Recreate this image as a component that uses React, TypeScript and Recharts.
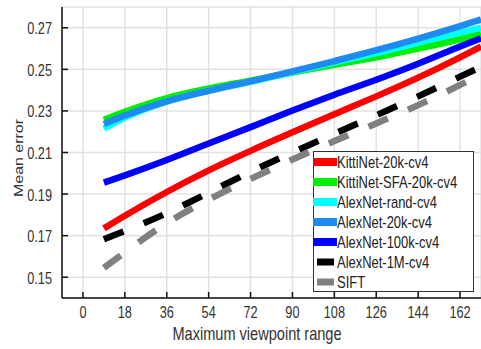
import { LineChart, Line, XAxis, YAxis, CartesianGrid, Legend, Customized } from "recharts";

const FONT = "'Liberation Sans', Arial, Helvetica, sans-serif";

// viewpoint range samples
const ranges = [9, 18, 36, 54, 72, 90, 108, 126, 144, 162, 171];

const kitti20k = [0.1735, 0.1796, 0.191, 0.2014, 0.2108, 0.2197, 0.2284, 0.237, 0.246, 0.2558, 0.261];
const kittiSfa20k = [0.2257, 0.2296, 0.2362, 0.2408, 0.2446, 0.2485, 0.2522, 0.2558, 0.26, 0.2645, 0.267];
const alexRand = [0.2215, 0.2268, 0.2345, 0.2397, 0.244, 0.2487, 0.2533, 0.2578, 0.2628, 0.2677, 0.27];
const alex20k = [0.2237, 0.2278, 0.2346, 0.2397, 0.2442, 0.249, 0.254, 0.2592, 0.2648, 0.2708, 0.274];
const alex100k = [0.1955, 0.199, 0.2064, 0.2143, 0.2222, 0.2302, 0.2378, 0.245, 0.2527, 0.261, 0.265];
const alex1M = [0.1683, 0.1723, 0.1808, 0.1907, 0.2007, 0.21, 0.219, 0.2279, 0.237, 0.2465, 0.2512];
const sift = [0.1545, 0.162, 0.176, 0.1873, 0.1973, 0.2066, 0.2155, 0.224, 0.2328, 0.2425, 0.2477];

const xTicks = [0, 18, 36, 54, 72, 90, 108, 126, 144, 162];
const yTicks = [0.15, 0.17, 0.19, 0.21, 0.23, 0.25, 0.27];

const series = [
  { key: "kitti20k", name: "KittiNet-20k-cv4", color: "#ff0000", values: kitti20k, dashed: false },
  { key: "kittiSfa20k", name: "KittiNet-SFA-20k-cv4", color: "#00ee00", values: kittiSfa20k, dashed: false },
  { key: "alexRand", name: "AlexNet-rand-cv4", color: "#00ffff", values: alexRand, dashed: false },
  { key: "alex20k", name: "AlexNet-20k-cv4", color: "#1f8af2", values: alex20k, dashed: false },
  { key: "alex100k", name: "AlexNet-100k-cv4", color: "#0000ff", values: alex100k, dashed: false },
  { key: "alex1M", name: "AlexNet-1M-cv4", color: "#000000", values: alex1M, dashed: true },
  { key: "sift", name: "SIFT", color: "#808080", values: sift, dashed: true },
];

const data = ranges.map((r, i) => {
  const row: Record<string, number> = { range: r };
  series.forEach((s) => {
    row[s.key] = s.values[i];
  });
  return row;
});

// ticks point inward, labels are narrow like the original figure
const XTick = ({ x, y, payload }: any) => (
  <g>
    <line x1={x} x2={x} y1={y} y2={y - 6} stroke="#111" strokeWidth={1.5} />
    <text
      transform={`translate(${x},${y + 20}) scale(0.75,1)`}
      textAnchor="middle"
      fontSize={17}
      fontFamily={FONT}
      fill="#333"
    >
      {payload.value}
    </text>
  </g>
);

const YTick = ({ x, y, payload }: any) => (
  <g>
    <line x1={x} x2={x + 6} y1={y} y2={y} stroke="#111" strokeWidth={1.5} />
    <text
      transform={`translate(${x - 10},${y + 6.5}) scale(0.75,1)`}
      textAnchor="end"
      fontSize={17}
      fontFamily={FONT}
      fill="#333"
    >
      {Number(payload.value).toFixed(2)}
    </text>
  </g>
);

const renderLegend = () => (
  <svg width={162} height={142} style={{ display: "block" }}>
    <rect x={0.5} y={0.5} width={160} height={140} fill="#fff" stroke="#333" strokeWidth={1} />
    {series.map((s, i) => (
      <g key={s.key}>
        <line
          x1={s.dashed ? 4 : 0}
          x2={s.dashed ? 21 : 24}
          y1={11 + i * 20}
          y2={11 + i * 20}
          stroke={s.color}
          strokeWidth={s.dashed ? 7 : 8}
        />
        <text
          transform={`translate(24,${16.5 + i * 20}) scale(0.81,1)`}
          fontSize={16}
          fontFamily={FONT}
          fill="#222"
        >
          {s.name}
        </text>
      </g>
    ))}
  </svg>
);

const AxisTitles = () => (
  <g fontFamily={FONT} fill="#333">
    <text transform="translate(257,340) scale(0.81,1)" textAnchor="middle" fontSize={18}>
      Maximum viewpoint range
    </text>
    <text transform="translate(23,158) rotate(-90) scale(1,0.78)" textAnchor="middle" fontSize={16}>
      Mean error
    </text>
  </g>
);

export default function App() {
  return (
    <div style={{ position: "absolute", left: 0, top: 0, background: "#fff" }}>
      <LineChart width={481} height={349} data={data} margin={{ top: 7, right: 0, bottom: 0, left: 0 }}>
        <CartesianGrid stroke="#e2e2e2" strokeWidth={1.5} />
        <XAxis
          dataKey="range"
          type="number"
          domain={[-9, 171]}
          ticks={xTicks}
          interval={0}
          height={51}
          tickSize={0}
          tickMargin={0}
          tickLine={false}
          axisLine={{ stroke: "#111", strokeWidth: 1.5 }}
          tick={<XTick />}
        />
        <YAxis
          type="number"
          domain={[0.14, 0.28]}
          ticks={yTicks}
          interval={0}
          width={62}
          tickSize={0}
          tickMargin={0}
          tickLine={false}
          axisLine={{ stroke: "#111", strokeWidth: 1.5 }}
          tick={<YTick />}
        />
        {series.map((s) => (
          <Line
            key={s.key}
            type="monotone"
            dataKey={s.key}
            name={s.name}
            stroke={s.color}
            strokeWidth={6.5}
            strokeDasharray={s.dashed ? "21 22" : undefined}
            dot={false}
            activeDot={false}
            isAnimationActive={false}
          />
        ))}
        <Legend
          layout="vertical"
          align="center"
          verticalAlign="middle"
          content={renderLegend}
          wrapperStyle={{ left: 313, top: 151, width: 162, height: 142 }}
        />
        <Customized component={AxisTitles} />
      </LineChart>
    </div>
  );
}
